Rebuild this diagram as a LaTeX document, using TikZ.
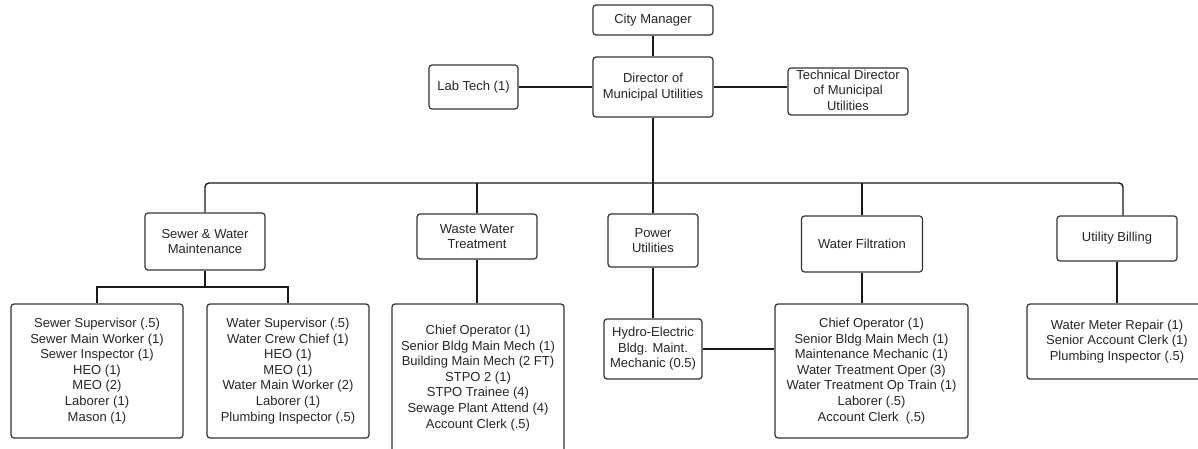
\documentclass[tikz,border=0pt]{standalone}
\usepackage{fontspec}
\setmainfont{Liberation Sans}
\begin{document}
\begin{tikzpicture}[x=1pt,y=-1pt,
  box/.style={draw=black!80, line width=1.2pt, rounded corners=3pt, align=center,
    inner sep=0pt, text=black!85, font=\fontsize{13}{15.6}\selectfont, anchor=center},
  link/.style={draw=black!90, line width=1.4pt}]
\useasboundingbox (0,0) rectangle (1198,449);
\clip (0,0) rectangle (1198,449);
\fill[white] (0,0) rectangle (1198,449);
% top level
\node[box, minimum width=120, minimum height=30] (cm) at (653,20) {City Manager};
\node[box, minimum width=120, minimum height=60] (dir) at (653,87) {Director of\\Municipal Utilities};
\node[box, minimum width=89, minimum height=44] (lab) at (473.5,87) {Lab Tech (1)};
\node[box, minimum width=120, minimum height=47] (td) at (848,91.5) {\raisebox{3pt}{\begin{tabular}{@{}c@{}}Technical Director\\of Municipal\\Utilities\end{tabular}}};
% departments
\node[box, minimum width=120, minimum height=57] (swm) at (205,241.5) {Sewer \& Water\\Maintenance};
\node[box, minimum width=120, minimum height=45] (wwt) at (477,236.5) {Waste Water\\Treatment};
\node[box, minimum width=90, minimum height=53] (pu) at (653,240.5) {Power\\Utilities};
\node[box, minimum width=121, minimum height=56] (wf) at (862,244) {Water Filtration};
\node[box, minimum width=120, minimum height=45] (ub) at (1117,238.5) {Utility Billing};
% staff boxes
\node[box, minimum width=172, minimum height=134] (sw) at (97,371) {Sewer Supervisor (.5)\\Sewer Main Worker (1)\\Sewer Inspector (1)\\HEO (1)\\MEO (2)\\Laborer (1)\\Mason (1)};
\node[box, minimum width=162, minimum height=134] (wa) at (288,371) {Water Supervisor (.5)\\Water Crew Chief (1)\\HEO (1)\\MEO (1)\\Water Main Worker (2)\\Laborer (1)\\Plumbing Inspector (.5)};
\node[box, minimum width=172, minimum height=148] (wwl) at (478,378) {Chief Operator (1)\\Senior Bldg Main Mech (1)\\Building Main Mech (2 FT)\\STPO 2 (1)\\STPO Trainee (4)\\Sewage Plant Attend (4)\\Account Clerk (.5)};
\node[box, minimum width=98, minimum height=60] (hy) at (653,349) {Hydro-Electric\\Bldg. Maint.\\Mechanic (0.5)};
\node[box, minimum width=193, minimum height=134] (wfl) at (871.5,371) {Chief Operator (1)\\Senior Bldg Main Mech (1)\\Maintenance Mechanic (1)\\Water Treatment Oper (3)\\Water Treatment Op Train (1)\\Laborer (.5)\\Account Clerk\ \ (.5)};
\node[box, minimum width=180, minimum height=75] (ubl) at (1117,341.5) {Water Meter Repair (1)\\Senior Account Clerk (1)\\Plumbing Inspector (.5)};
% connectors
\coordinate (bus) at (653,183);
\coordinate (sub) at (205,287);
\draw[link] (cm.south) -- (dir.north);
\draw[link] (lab.east) -- (dir.west);
\draw[link] (dir.east) -- (dir.east -| td.west);
\draw[link] (dir.south) -- (bus);
\draw[link, rounded corners=4pt] (swm.north) |- (bus) -| ([xshift=6pt]ub.north);
\draw[link] (wwt.north) -- (wwt.north |- bus);
\draw[link] (pu.north) -- (bus);
\draw[link] (wf.north) -- (wf.north |- bus);
\draw[link] (swm.south) -- (sub);
\draw[link] (sw.north) |- (sub) -| (wa.north);
\draw[link] (wwt.south) -- (wwt.south |- wwl.north);
\draw[link] (pu.south) -- (hy.north);
\draw[link] (hy.east) -- (hy.east -| wfl.west);
\draw[link] (wf.south) -- (wf.south |- wfl.north);
\draw[link] (ub.south) -- (ubl.north);
\end{tikzpicture}
\end{document}
